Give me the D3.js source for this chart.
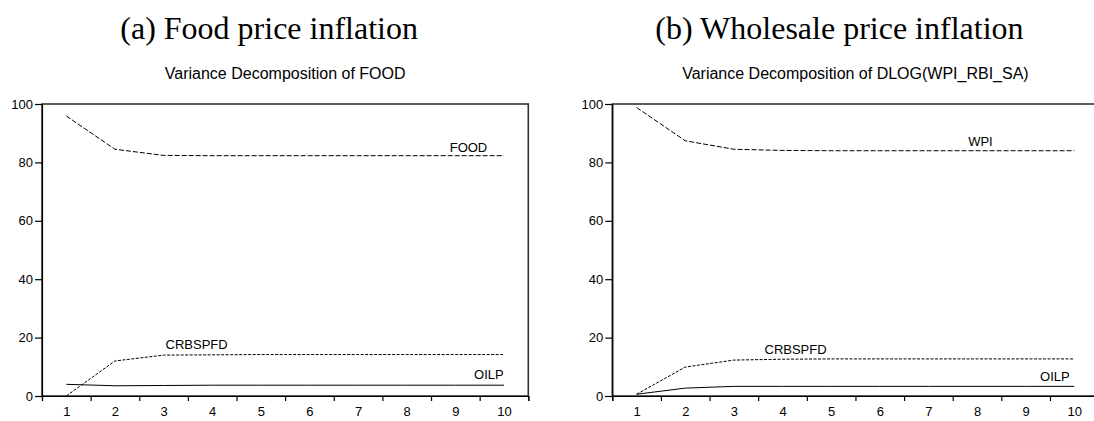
<!DOCTYPE html>
<html>
<head>
<meta charset="utf-8">
<script src="https://cdn.jsdelivr.net/npm/d3@7"></script>
<style>
body { margin: 0; background: #fff; }
svg { display: block; }
.sub { font-family: "Liberation Serif", "Times New Roman", serif; font-size: 32px; fill: #000; }
.ttl { font-family: "Liberation Sans", Arial, sans-serif; font-size: 16px; fill: #000; }
.lbl { font-family: "Liberation Sans", Arial, sans-serif; font-size: 13px; fill: #000; }
.axis text { font-family: "Liberation Sans", Arial, sans-serif; font-size: 13px; fill: #000; }
.axis path, .axis line { stroke: #000; stroke-width: 1.2; }
</style>
</head>
<body>
<svg id="chart" width="1094" height="421"></svg>
<script>
var periods = [1, 2, 3, 4, 5, 6, 7, 8, 9, 10];
var yTicks = [0, 20, 40, 60, 80, 100];

// (a) variance decomposition of FOOD
var foodOwn = [95.9, 84.5, 82.4, 82.3, 82.3, 82.3, 82.3, 82.3, 82.3, 82.3];
var foodCrb = [0.0, 12.0, 14.0, 14.1, 14.2, 14.2, 14.2, 14.2, 14.2, 14.2];
var foodOil = [4.0, 3.5, 3.6, 3.7, 3.7, 3.7, 3.7, 3.7, 3.7, 3.7];

// (b) variance decomposition of DLOG(WPI_RBI_SA)
var wpiOwn = [98.8, 87.4, 84.5, 84.1, 84.0, 84.0, 84.0, 84.0, 84.0, 84.0];
var wpiCrb = [0.6, 9.9, 12.3, 12.6, 12.7, 12.7, 12.7, 12.7, 12.7, 12.7];
var wpiOil = [0.6, 2.7, 3.3, 3.3, 3.3, 3.3, 3.3, 3.3, 3.3, 3.3];

var panels = [
    {
        left: 42, sub: "(a) Food price inflation",
        title: "Variance Decomposition of FOOD",
        series: [
            { values: foodOwn, dash: "5,2", name: "FOOD", lx: 9.27, ly: 83.5, anchor: "middle" },
            { values: foodCrb, dash: "3,1.5", name: "CRBSPFD", lx: 3.04, ly: 16.1, anchor: "start" },
            { values: foodOil, dash: null, name: "OILP", lx: 9.69, ly: 5.8, anchor: "middle" }
        ]
    },
    {
        left: 612.3, sub: "(b) Wholesale price inflation",
        title: "Variance Decomposition of DLOG(WPI_RBI_SA)",
        series: [
            { values: wpiOwn, dash: "5,2", name: "WPI", lx: 8.07, ly: 85.7, anchor: "middle" },
            { values: wpiCrb, dash: "3,1.5", name: "CRBSPFD", lx: 3.63, ly: 14.4, anchor: "start" },
            { values: wpiOil, dash: null, name: "OILP", lx: 9.6, ly: 5.2, anchor: "middle" }
        ]
    }
];

var plotTop = 104, w = 486.3, h = 292;
var svg = d3.select("#chart");

function drawPanel(p) {
    var g = svg.append("g").attr("transform", "translate(" + p.left + "," + plotTop + ")");
    var x = d3.scaleLinear().domain([0.5, 10.5]).range([0, w]);
    var y = d3.scaleLinear().domain([0, 100]).range([h, 0]);

    svg.append("text").attr("class", "sub")
        .attr("x", p.left + w / 2 - 16).attr("y", 39)
        .attr("text-anchor", "middle").text(p.sub);
    svg.append("text").attr("class", "ttl")
        .attr("x", p.left + w / 2).attr("y", 79)
        .attr("text-anchor", "middle").text(p.title);

    g.append("rect").attr("width", w).attr("height", h)
        .attr("fill", "none").attr("stroke", "#333").attr("stroke-width", 1.6);

    var edges = d3.range(0.5, 11, 1);
    g.append("g").attr("class", "axis")
        .attr("transform", "translate(0," + h + ")")
        .call(d3.axisBottom(x).tickValues(edges).tickSize(5).tickFormat(""));
    g.append("g").attr("class", "axis")
        .attr("transform", "translate(0," + h + ")")
        .call(d3.axisBottom(x).tickValues(periods).tickSize(0).tickPadding(11).tickFormat(d3.format("d")))
        .call(function(a) { a.select(".domain").remove(); });
    g.append("g").attr("class", "axis")
        .call(d3.axisLeft(y).tickValues(yTicks).tickSize(7).tickPadding(2));

    var line = d3.line()
        .x(function(d, i) { return x(periods[i]); })
        .y(function(d) { return y(d); });

    p.series.forEach(function(s) {
        g.append("path").datum(s.values)
            .attr("d", line)
            .attr("fill", "none")
            .attr("stroke", "#000")
            .attr("stroke-width", 1)
            .attr("stroke-dasharray", s.dash);
        g.append("text").attr("class", "lbl")
            .attr("x", x(s.lx)).attr("y", y(s.ly))
            .attr("text-anchor", s.anchor).text(s.name);
    });
}

panels.forEach(drawPanel);
</script>
</body>
</html>
